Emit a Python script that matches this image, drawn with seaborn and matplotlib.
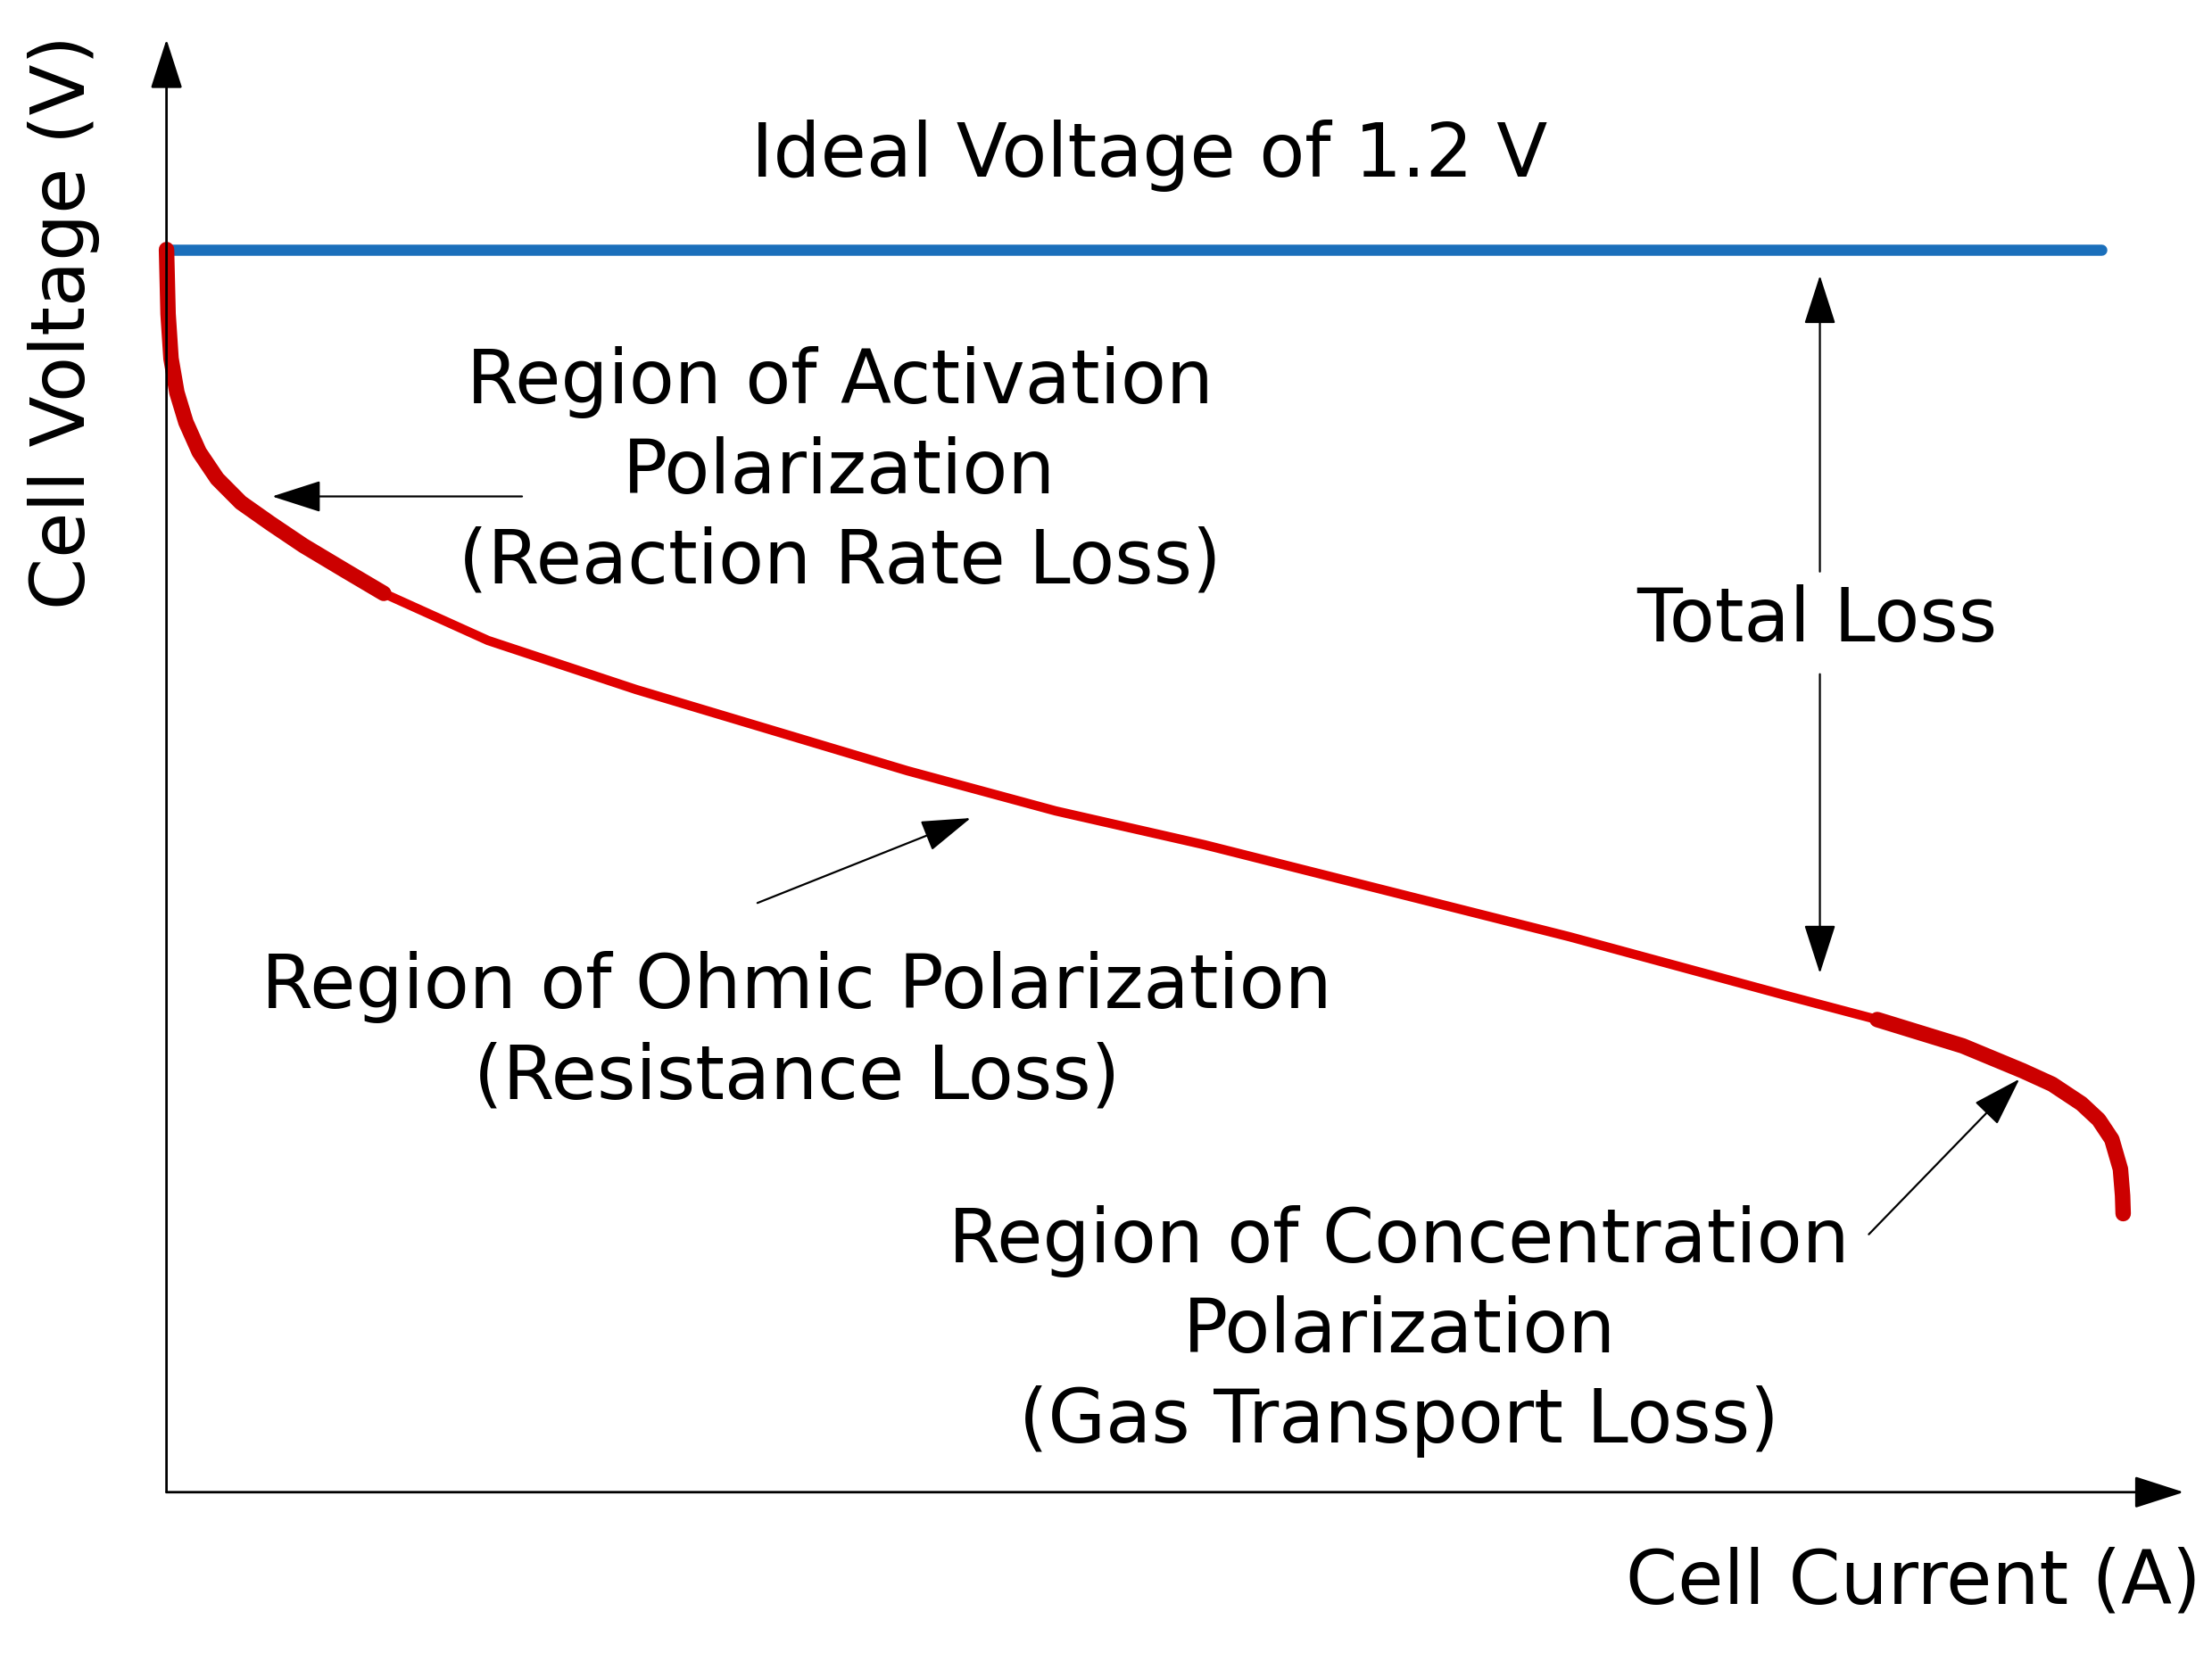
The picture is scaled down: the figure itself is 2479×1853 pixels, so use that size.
import matplotlib
matplotlib.use("Agg")
import matplotlib.pyplot as plt
import seaborn as sns
import pandas as pd

# ---- data ----
act_current = [0.0, 0.0008, 0.0023, 0.0053, 0.0099, 0.0167, 0.0259, 0.0380, 0.0531,
               0.0700, 0.0914, 0.111]
act_voltage = [1.2, 1.1378, 1.0948, 1.0620, 1.0333, 1.0045, 0.9787, 0.9557, 0.9356,
               0.9141, 0.8899, 0.868]
ohm_current = [0.1643, 0.240, 0.3162, 0.3786, 0.4544, 0.5305, 0.717, 0.827, 0.8743]
ohm_voltage = [0.8225, 0.7751, 0.732, 0.6967, 0.6579, 0.6252, 0.5364, 0.480, 0.4564]
con_current = [0.918, 0.9486, 0.9637, 0.9787, 0.9875, 0.9942, 0.9986, 0.9997, 1.0]
con_voltage = [0.431, 0.407, 0.394, 0.3752, 0.3597, 0.3407, 0.312, 0.2864, 0.269]
ideal_current = [0.0, 0.989]
ideal_voltage = [1.2, 1.2]

df = pd.DataFrame({
    "current": act_current + ohm_current + con_current,
    "voltage": act_voltage + ohm_voltage + con_voltage,
    "region": (["activation"] * len(act_current) + ["ohmic"] * len(ohm_current)
               + ["concentration"] * len(con_current)),
})

sns.set_theme(style="white")
plt.rcParams["font.family"] = ["DejaVu Sans"]
plt.rcParams["text.color"] = "black"

fig = plt.figure(figsize=(24.79, 18.53), dpi=100)
ax = fig.add_axes([0, 0, 1, 1])
ax.set_xlim(-0.0851, 1.0454)
ax.set_ylim(-0.1553, 1.441)
ax.axis("off")

# ideal voltage line
sns.lineplot(x=ideal_current, y=ideal_voltage, ax=ax, color="#1a6fbb", lw=9.0,
             solid_capstyle="round")

# polarization curve: thin ohmic part, thick ends
act = df[df.region == "activation"]
ohm = pd.concat([act.tail(1), df[df.region == "ohmic"]])
con = pd.concat([ohm.tail(1), df[df.region == "concentration"]])
sns.lineplot(data=ohm, x="current", y="voltage", ax=ax, sort=False, color="#e00000",
             lw=7.5, solid_capstyle="round", solid_joinstyle="round")
sns.lineplot(data=act, x="current", y="voltage", ax=ax, sort=False, color="#cc0000",
             lw=12.5, solid_capstyle="round", solid_joinstyle="round")
sns.lineplot(data=con, x="current", y="voltage", ax=ax, sort=False, color="#cc0000",
             lw=12.5, solid_capstyle="round", solid_joinstyle="round")

# axes with arrows
axis_arrow = dict(arrowstyle="-|>,head_length=1.4,head_width=0.45", color="black",
                  lw=2.0, mutation_scale=25, shrinkA=0, shrinkB=0)
ax.annotate("", xy=(0, 1.403), xytext=(0, 0), arrowprops=axis_arrow)
ax.annotate("", xy=(1.031, 0), xytext=(0, 0), arrowprops=axis_arrow)

note_arrow = dict(arrowstyle="-|>,head_length=1.4,head_width=0.45", color="black",
                  lw=1.6, mutation_scale=25, shrinkA=0, shrinkB=0)
ax.annotate("", xy=(0.054, 0.9616), xytext=(0.1817, 0.9616), arrowprops=note_arrow)
ax.annotate("", xy=(0.411, 0.651), xytext=(0.302, 0.569), arrowprops=note_arrow)
ax.annotate("", xy=(0.947, 0.399), xytext=(0.870, 0.249), arrowprops=note_arrow)
ax.annotate("", xy=(0.845, 1.175), xytext=(0.845, 0.889), arrowprops=note_arrow)
ax.annotate("", xy=(0.845, 0.501), xytext=(0.845, 0.790), arrowprops=note_arrow)

fs = 60
ls = 1.31
ax.text(0.5025, 1.291, "Ideal Voltage of 1.2 V", ha="center", va="center", fontsize=fs)
ax.text(0.344, 0.985, "Region of Activation\nPolarization\n(Reaction Rate Loss)",
        ha="center", va="center", fontsize=fs, linespacing=ls)
ax.text(0.322, 0.444, "Region of Ohmic Polarization\n(Resistance Loss)",
        ha="center", va="center", fontsize=fs, linespacing=ls)
ax.text(0.630, 0.155, "Region of Concentration\nPolarization\n(Gas Transport Loss)",
        ha="center", va="center", fontsize=fs, linespacing=ls)
ax.text(0.8435, 0.842, "Total Loss", ha="center", va="center", fontsize=fs)
ax.text(-0.0526, 1.130, "Cell Voltage (V)", ha="center", va="center", fontsize=fs,
        rotation=90)
ax.text(0.8926, -0.0872, "Cell Current (A)", ha="center", va="center", fontsize=fs)

fig.savefig("out.png", dpi=100, facecolor="white")
